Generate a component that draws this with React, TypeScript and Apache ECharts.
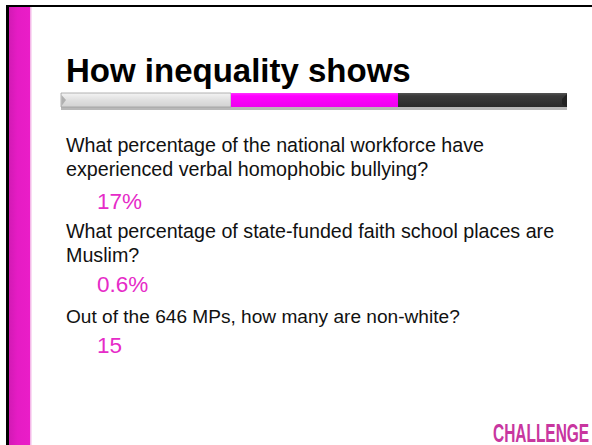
import React, { useEffect, useRef } from "react";
import * as echarts from "echarts";

const titleText = "How inequality shows";
const questionLines: string[][] = [
  ["What percentage of the national workforce have", "experienced verbal homophobic bullying?"],
  ["What percentage of state-funded faith school places are", "Muslim?"],
  ["Out of the 646 MPs, how many are non-white?"],
];
const answers: string[] = ["17%", "0.6%", "15"];
const logoText = "CHALLENGE";

const questionTops = [144.9, 230.8, 316.6];
const questionSizes = [19.7, 19.7, 19.1];
const answerYs = [201.2, 284.9, 345.5];
const FONT = "'Liberation Sans', Arial, sans-serif";

export default function App() {
  const ref = useRef<HTMLDivElement>(null);
  useEffect(() => {
    document.body.style.margin = "0";
    const chart = echarts.init(ref.current!, undefined, { renderer: "svg" });
    const g: any[] = [];
    g.push({ type: "rect", shape: { x: 0, y: 0, width: 592, height: 445 }, style: { fill: "#fff" } });
    // black frame
    g.push({ type: "rect", shape: { x: 6, y: 5, width: 586, height: 2 }, style: { fill: "#000" } });
    g.push({ type: "rect", shape: { x: 6, y: 5, width: 3, height: 440 }, style: { fill: "#000" } });
    // magenta side bar
    g.push({
      type: "rect",
      shape: { x: 9, y: 7, width: 21, height: 438 },
      style: {
        fill: new echarts.graphic.LinearGradient(0, 0, 1, 0, [
          { offset: 0, color: "#d21ab4" },
          { offset: 0.4, color: "#e51cc4" },
          { offset: 1, color: "#ea1dc8" },
        ]),
      },
    });
    g.push({ type: "rect", shape: { x: 30, y: 7, width: 1.5, height: 438 }, style: { fill: "#f4b8e8" } });
    // title
    g.push({
      type: "text",
      x: 66,
      y: 70.6,
      style: { text: titleText, font: `bold 33px ${FONT}`, fill: "#000", textVerticalAlign: "middle" },
    });
    // decorative bar: shadow
    g.push({ type: "rect", shape: { x: 61, y: 107, width: 506, height: 3 }, style: { fill: "#b8b8b8" } });
    // gray segment
    g.push({
      type: "rect",
      shape: { x: 61, y: 93, width: 170, height: 14 },
      style: {
        fill: new echarts.graphic.LinearGradient(0, 0, 0, 1, [
          { offset: 0, color: "#f4f4f4" },
          { offset: 0.5, color: "#e0e0e0" },
          { offset: 1, color: "#d2d2d2" },
        ]),
        stroke: "#a0a0a0",
        lineWidth: 0.8,
      },
    });
    g.push({ type: "polygon", shape: { points: [[61.5, 95], [66, 100], [61.5, 106]] }, style: { fill: "#b0b0b0" } });
    // magenta segment
    g.push({
      type: "rect",
      shape: { x: 231, y: 93, width: 167, height: 14 },
      style: {
        fill: new echarts.graphic.LinearGradient(0, 0, 0, 1, [
          { offset: 0, color: "#ff33ff" },
          { offset: 0.2, color: "#ff00ff" },
          { offset: 1, color: "#ee00ee" },
        ]),
      },
    });
    // dark segment
    g.push({
      type: "rect",
      shape: { x: 398, y: 93, width: 169, height: 14 },
      style: {
        fill: new echarts.graphic.LinearGradient(0, 0, 0, 1, [
          { offset: 0, color: "#555" },
          { offset: 0.2, color: "#3a3a3a" },
          { offset: 1, color: "#2a2a2a" },
        ]),
      },
    });
    g.push({ type: "polygon", shape: { points: [[567, 94], [562, 99], [562, 104], [567, 107]] }, style: { fill: "#222" } });
    // questions
    questionLines.forEach((lines, qi) => {
      lines.forEach((line, li) => {
        g.push({
          type: "text",
          x: 66,
          y: questionTops[qi] + li * 23.8,
          style: { text: line, font: `${questionSizes[qi]}px ${FONT}`, fill: "#111", textVerticalAlign: "middle" },
        });
      });
    });
    // answers
    answers.forEach((a, i) => {
      g.push({
        type: "text",
        x: 97,
        y: answerYs[i],
        style: { text: a, font: `22.5px ${FONT}`, fill: "#e62bc8", textVerticalAlign: "middle" },
      });
    });
    // logo
    g.push({
      type: "text",
      x: 493,
      y: 433,
      scaleX: 0.595,
      originX: 0,
      originY: 0,
      style: { text: logoText, font: `bold 26px ${FONT}`, fill: "#c8369f", textVerticalAlign: "middle" },
    });
    chart.setOption({ animation: false, graphic: { elements: g } });
    return () => chart.dispose();
  }, []);
  return <div ref={ref} style={{ position: "absolute", left: 0, top: 0, width: 592, height: 445 }} />;
}
